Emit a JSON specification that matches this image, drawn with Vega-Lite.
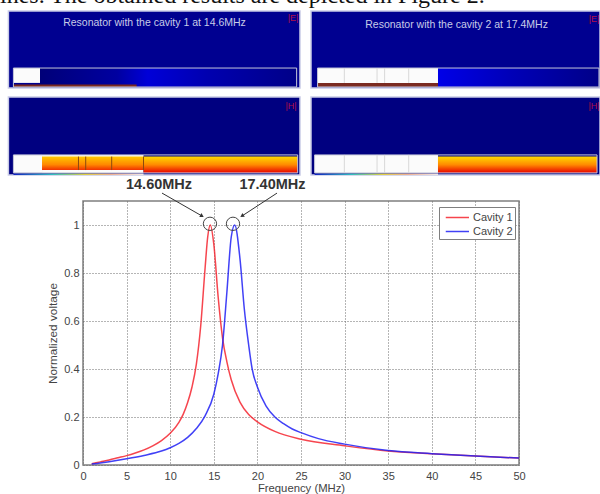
{
"$schema":"https://vega.github.io/schema/vega-lite/v6.json",
"width":436,"height":264,
"autosize":{"type":"none"},
"padding":{"left":83,"top":201,"right":81,"bottom":29},
"background":"white",
"config":{"view":{"stroke":"#7f7f7f","strokeWidth":1.5},"font":"Liberation Sans"},
"datasets":{
"curves":[
{"f":1,"v":0.005,"s":"Cavity 1"},{"f":2,"v":0.013,"s":"Cavity 1"},{"f":3,"v":0.021,"s":"Cavity 1"},{"f":4,"v":0.03,"s":"Cavity 1"},{"f":5,"v":0.039,"s":"Cavity 1"},{"f":6,"v":0.05,"s":"Cavity 1"},{"f":7,"v":0.063,"s":"Cavity 1"},{"f":8,"v":0.08,"s":"Cavity 1"},{"f":9,"v":0.102,"s":"Cavity 1"},{"f":10,"v":0.132,"s":"Cavity 1"},{"f":11,"v":0.178,"s":"Cavity 1"},{"f":11.5,"v":0.212,"s":"Cavity 1"},{"f":12,"v":0.26,"s":"Cavity 1"},{"f":12.5,"v":0.325,"s":"Cavity 1"},{"f":13,"v":0.42,"s":"Cavity 1"},{"f":13.5,"v":0.58,"s":"Cavity 1"},{"f":14,"v":0.82,"s":"Cavity 1"},{"f":14.3,"v":0.95,"s":"Cavity 1"},{"f":14.6,"v":1,"s":"Cavity 1"},{"f":15,"v":0.92,"s":"Cavity 1"},{"f":15.5,"v":0.7,"s":"Cavity 1"},{"f":16,"v":0.53,"s":"Cavity 1"},{"f":16.5,"v":0.43,"s":"Cavity 1"},{"f":17,"v":0.355,"s":"Cavity 1"},{"f":18,"v":0.262,"s":"Cavity 1"},{"f":19,"v":0.21,"s":"Cavity 1"},{"f":20,"v":0.18,"s":"Cavity 1"},{"f":22,"v":0.14,"s":"Cavity 1"},{"f":25,"v":0.107,"s":"Cavity 1"},{"f":30,"v":0.08,"s":"Cavity 1"},{"f":35,"v":0.058,"s":"Cavity 1"},{"f":40,"v":0.047,"s":"Cavity 1"},{"f":45,"v":0.037,"s":"Cavity 1"},{"f":50,"v":0.029,"s":"Cavity 1"},
{"f":1,"v":0.004,"s":"Cavity 2"},{"f":3,"v":0.014,"s":"Cavity 2"},{"f":5,"v":0.026,"s":"Cavity 2"},{"f":7,"v":0.04,"s":"Cavity 2"},{"f":9,"v":0.058,"s":"Cavity 2"},{"f":10,"v":0.072,"s":"Cavity 2"},{"f":11,"v":0.09,"s":"Cavity 2"},{"f":12,"v":0.115,"s":"Cavity 2"},{"f":13,"v":0.152,"s":"Cavity 2"},{"f":14,"v":0.205,"s":"Cavity 2"},{"f":15,"v":0.295,"s":"Cavity 2"},{"f":15.5,"v":0.38,"s":"Cavity 2"},{"f":16,"v":0.5,"s":"Cavity 2"},{"f":16.5,"v":0.72,"s":"Cavity 2"},{"f":17,"v":0.95,"s":"Cavity 2"},{"f":17.4,"v":1,"s":"Cavity 2"},{"f":18,"v":0.86,"s":"Cavity 2"},{"f":18.5,"v":0.65,"s":"Cavity 2"},{"f":19,"v":0.5,"s":"Cavity 2"},{"f":19.4,"v":0.4,"s":"Cavity 2"},{"f":20,"v":0.325,"s":"Cavity 2"},{"f":21,"v":0.245,"s":"Cavity 2"},{"f":22,"v":0.2,"s":"Cavity 2"},{"f":23,"v":0.172,"s":"Cavity 2"},{"f":24,"v":0.15,"s":"Cavity 2"},{"f":25,"v":0.135,"s":"Cavity 2"},{"f":27,"v":0.11,"s":"Cavity 2"},{"f":30,"v":0.087,"s":"Cavity 2"},{"f":35,"v":0.06,"s":"Cavity 2"},{"f":40,"v":0.047,"s":"Cavity 2"},{"f":45,"v":0.037,"s":"Cavity 2"},{"f":50,"v":0.029,"s":"Cavity 2"}
],
"blocks":[
{"part":"panelE","f":-8.555,"f2":24.885,"v":1.892,"v2":1.571},
{"part":"panelE","f":26.147,"f2":59.29,"v":1.892,"v2":1.571},
{"part":"panelH","f":-8.555,"f2":24.885,"v":1.533,"v2":1.208},
{"part":"panelH","f":26.147,"f2":59.29,"v":1.533,"v2":1.208},
{"part":"glow","f":40.71,"f2":59.17,"v":1.654,"v2":1.575},
{"part":"glowL","f":-4.93,"f2":24.5,"v":1.654,"v2":1.575},
{"part":"white","f":-7.98,"f2":-4.93,"v":1.654,"v2":1.592},
{"part":"white","f":26.9,"f2":40.71,"v":1.654,"v2":1.592},
{"part":"white","f":-7.98,"f2":-4.7,"v":1.292,"v2":1.217},
{"part":"white","f":26.56,"f2":40.71,"v":1.292,"v2":1.217},
{"part":"white","f":-4.7,"f2":6.94,"v":1.292,"v2":1.217},
{"part":"strip","f":-7.98,"f2":6.147,"v":1.585,"v2":1.575},
{"part":"strip","f":26.9,"f2":40.71,"v":1.592,"v2":1.575},
{"part":"band","f":6.94,"f2":24.62,"v":1.285,"v2":1.217},
{"part":"band","f":40.71,"f2":58.95,"v":1.285,"v2":1.217},
{"part":"inner","f":-4.7,"f2":6.94,"v":1.285,"v2":1.229},
{"part":"rainbow","f":-7.98,"f2":6.94,"v":1.215,"v2":1.208},
{"part":"rainbow","f":26.56,"f2":40.71,"v":1.215,"v2":1.208},
{"part":"outline","f":-7.98,"f2":24.5,"v":1.654,"v2":1.575},
{"part":"outline","f":26.9,"f2":59.17,"v":1.654,"v2":1.575},
{"part":"outline","f":-7.98,"f2":24.62,"v":1.292,"v2":1.217},
{"part":"outline","f":26.56,"f2":58.95,"v":1.292,"v2":1.217}
],
"dividers":[
{"c":"dark","f":-0.52,"v":1.285,"v2":1.229},
{"c":"dark","f":0.31,"v":1.285,"v2":1.229},
{"c":"dark","f":3.29,"v":1.285,"v2":1.229},
{"c":"dark","f":6.94,"v":1.285,"v2":1.229},
{"c":"pale","f":29.97,"v":1.654,"v2":1.592},
{"c":"pale","f":33.72,"v":1.654,"v2":1.592},
{"c":"pale","f":34.59,"v":1.654,"v2":1.592},
{"c":"pale","f":37.35,"v":1.654,"v2":1.592},
{"c":"pale","f":29.97,"v":1.292,"v2":1.217},
{"c":"pale","f":33.72,"v":1.292,"v2":1.217},
{"c":"pale","f":34.59,"v":1.292,"v2":1.217},
{"c":"pale","f":37.35,"v":1.292,"v2":1.217}
],
"arrows":[
{"id":"a","f":9.06,"v":1.133,"end":0},{"id":"a","f":13.65,"v":1.0375,"end":1},
{"id":"b","f":22.25,"v":1.133,"end":0},{"id":"b","f":18.23,"v":1.0375,"end":1}
],
"circles":[{"f":14.56,"v":1.005},{"f":17.2,"v":1.005}],
"peaks":[{"f":8.72,"v":1.167,"t":"14.60MHz"},{"f":21.73,"v":1.167,"t":"17.40MHz"}],
"captions":[{"f":8.2,"v":1.842,"t":"Resonator with the cavity 1 at 14.6MHz"},{"f":42.84,"v":1.834,"t":"Resonator with the cavity 2 at 17.4MHz"}],
"tags":[{"f":24.08,"v":1.8625,"t":"|E|"},{"f":58.6,"v":1.858,"t":"|E|"},{"f":23.85,"v":1.496,"t":"|H|"},{"f":58.6,"v":1.496,"t":"|H|"}],
"headline":[{"f":-9.52,"v":1.925,"t":"ines. The obtained results are depicted in Figure 2."}]
},
"encoding":{
"x":{"field":"f","type":"quantitative","title":"Frequency (MHz)","scale":{"domain":[0,50],"nice":false,"zero":false},
 "axis":{"values":[0,5,10,15,20,25,30,35,40,45,50],"grid":true,"gridColor":"#6a6a6a","gridDash":[1,2],"gridOpacity":1,"domain":false,"ticks":false,"labelColor":"#444444","labelFontSize":11,"labelPadding":5,"labelFlush":false,"titleColor":"#444444","titleFontSize":11.3,"titleFontWeight":"normal","titlePadding":1}},
"y":{"field":"v","type":"quantitative","title":"Normalized voltage","scale":{"domain":[0,1.1],"nice":false,"zero":false},
 "axis":{"values":[0,0.2,0.4,0.6,0.8,1],"format":"~g","grid":true,"gridColor":"#6a6a6a","gridDash":[1,2],"gridOpacity":1,"domain":false,"ticks":false,"labelColor":"#444444","labelFontSize":11,"labelPadding":4,"titleColor":"#444444","titleFontSize":11.8,"titleFontWeight":"normal","titlePadding":5}}
},
"layer":[
{"data":{"name":"headline"},"mark":{"type":"text","font":"Liberation Serif","fontSize":24,"align":"left","baseline":"alphabetic","color":"#111111"},"encoding":{"text":{"field":"t"}}},
{"data":{"name":"blocks"},"transform":[{"filter":"datum.part==='panelE'"}],"mark":{"type":"rect","color":"#000090","stroke":"#c9cbe6","strokeWidth":1.5},"encoding":{"x2":{"field":"f2"},"y2":{"field":"v2"}}},
{"data":{"name":"blocks"},"transform":[{"filter":"datum.part==='panelH'"}],"mark":{"type":"rect","color":"#000080","stroke":"#c9cbe6","strokeWidth":1.5},"encoding":{"x2":{"field":"f2"},"y2":{"field":"v2"}}},
{"data":{"name":"blocks"},"transform":[{"filter":"datum.part==='glow'"}],"mark":{"type":"rect","color":{"gradient":"linear","x1":0,"y1":0,"x2":1,"y2":0,"stops":[{"offset":0,"color":"#0000e8"},{"offset":0.45,"color":"#0000b8"},{"offset":1,"color":"#000088"}]}},"encoding":{"x2":{"field":"f2"},"y2":{"field":"v2"}}},
{"data":{"name":"blocks"},"transform":[{"filter":"datum.part==='glowL'"}],"mark":{"type":"rect","color":{"gradient":"linear","x1":0,"y1":0,"x2":1,"y2":0,"stops":[{"offset":0,"color":"#000078"},{"offset":0.3,"color":"#0000a0"},{"offset":0.42,"color":"#0000d8"},{"offset":0.65,"color":"#0000b0"},{"offset":1,"color":"#000088"}]}},"encoding":{"x2":{"field":"f2"},"y2":{"field":"v2"}}},
{"data":{"name":"blocks"},"transform":[{"filter":"datum.part==='white'"}],"mark":{"type":"rect","color":"#fbfbfb"},"encoding":{"x2":{"field":"f2"},"y2":{"field":"v2"}}},
{"data":{"name":"blocks"},"transform":[{"filter":"datum.part==='band'"}],"mark":{"type":"rect","color":{"gradient":"linear","x1":0,"y1":0,"x2":0,"y2":1,"stops":[{"offset":0,"color":"#ffd800"},{"offset":0.5,"color":"#ff8a00"},{"offset":1,"color":"#e80000"}]}},"encoding":{"x2":{"field":"f2"},"y2":{"field":"v2"}}},
{"data":{"name":"blocks"},"transform":[{"filter":"datum.part==='inner'"}],"mark":{"type":"rect","color":{"gradient":"linear","x1":0,"y1":0,"x2":0,"y2":1,"stops":[{"offset":0,"color":"#ffc800"},{"offset":0.6,"color":"#ff8800"},{"offset":1,"color":"#f03000"}]}},"encoding":{"x2":{"field":"f2"},"y2":{"field":"v2"}}},
{"data":{"name":"blocks"},"transform":[{"filter":"datum.part==='strip'"}],"mark":{"type":"rect","color":"#7a2a20"},"encoding":{"x2":{"field":"f2"},"y2":{"field":"v2"}}},
{"data":{"name":"blocks"},"transform":[{"filter":"datum.part==='rainbow'"}],"mark":{"type":"rect","color":{"gradient":"linear","x1":0,"y1":0,"x2":1,"y2":0,"stops":[{"offset":0,"color":"#1020c0"},{"offset":0.3,"color":"#30c0c0"},{"offset":0.55,"color":"#e0d040"},{"offset":0.75,"color":"#f0b090"},{"offset":1,"color":"#f0e8e8"}]}},"encoding":{"x2":{"field":"f2"},"y2":{"field":"v2"}}},
{"data":{"name":"blocks"},"transform":[{"filter":"datum.part==='outline'"}],"mark":{"type":"rect","fillOpacity":0,"stroke":"#c4c6d8","strokeWidth":1},"encoding":{"x2":{"field":"f2"},"y2":{"field":"v2"}}},
{"data":{"name":"dividers"},"transform":[{"filter":"datum.c==='dark'"}],"mark":{"type":"rule","color":"#8a4a10","strokeWidth":1},"encoding":{"y2":{"field":"v2"}}},
{"data":{"name":"dividers"},"transform":[{"filter":"datum.c==='pale'"}],"mark":{"type":"rule","color":"#d8d8d8","strokeWidth":1},"encoding":{"y2":{"field":"v2"}}},
{"data":{"name":"captions"},"mark":{"type":"text","fontSize":10.5,"color":"#c8cce8","align":"center"},"encoding":{"text":{"field":"t"}}},
{"data":{"name":"tags"},"mark":{"type":"text","fontSize":9,"color":"#b01048","align":"center"},"encoding":{"text":{"field":"t"}}},
{"data":{"name":"curves"},"mark":{"type":"line","strokeWidth":1.5,"interpolate":"monotone","opacity":0.85},"encoding":{"color":{"field":"s","type":"nominal","scale":{"domain":["Cavity 1","Cavity 2"],"range":["#f5242f","#2020f5"]},
 "legend":{"orient":"none","legendX":356,"legendY":6,"title":null,"symbolType":"M-0.5,0H2.6","symbolSize":225,"symbolStrokeWidth":1.5,"labelFontSize":11,"labelColor":"#444444","fillColor":"white","strokeColor":"#7f7f7f","padding":2,"rowPadding":0,"labelOffset":15}}}},
{"data":{"name":"arrows"},"mark":{"type":"line","color":"#333333","strokeWidth":1},"encoding":{"detail":{"field":"id"},"order":{"field":"end"}}},
{"data":{"name":"arrows"},"transform":[{"filter":"datum.end===1"}],"mark":{"type":"point","shape":"triangle-up","filled":true,"size":20,"color":"#333333","opacity":1},"encoding":{"angle":{"field":"f","type":"quantitative","scale":{"domain":[13.65,18.23],"range":[120,237]}}}},
{"data":{"name":"circles"},"mark":{"type":"point","shape":"circle","size":177,"filled":false,"stroke":"#444444","strokeWidth":1,"opacity":1}},
{"data":{"name":"peaks"},"mark":{"type":"text","fontSize":14.5,"fontWeight":"bold","color":"#333333","align":"center"},"encoding":{"text":{"field":"t"}}}
]
}
